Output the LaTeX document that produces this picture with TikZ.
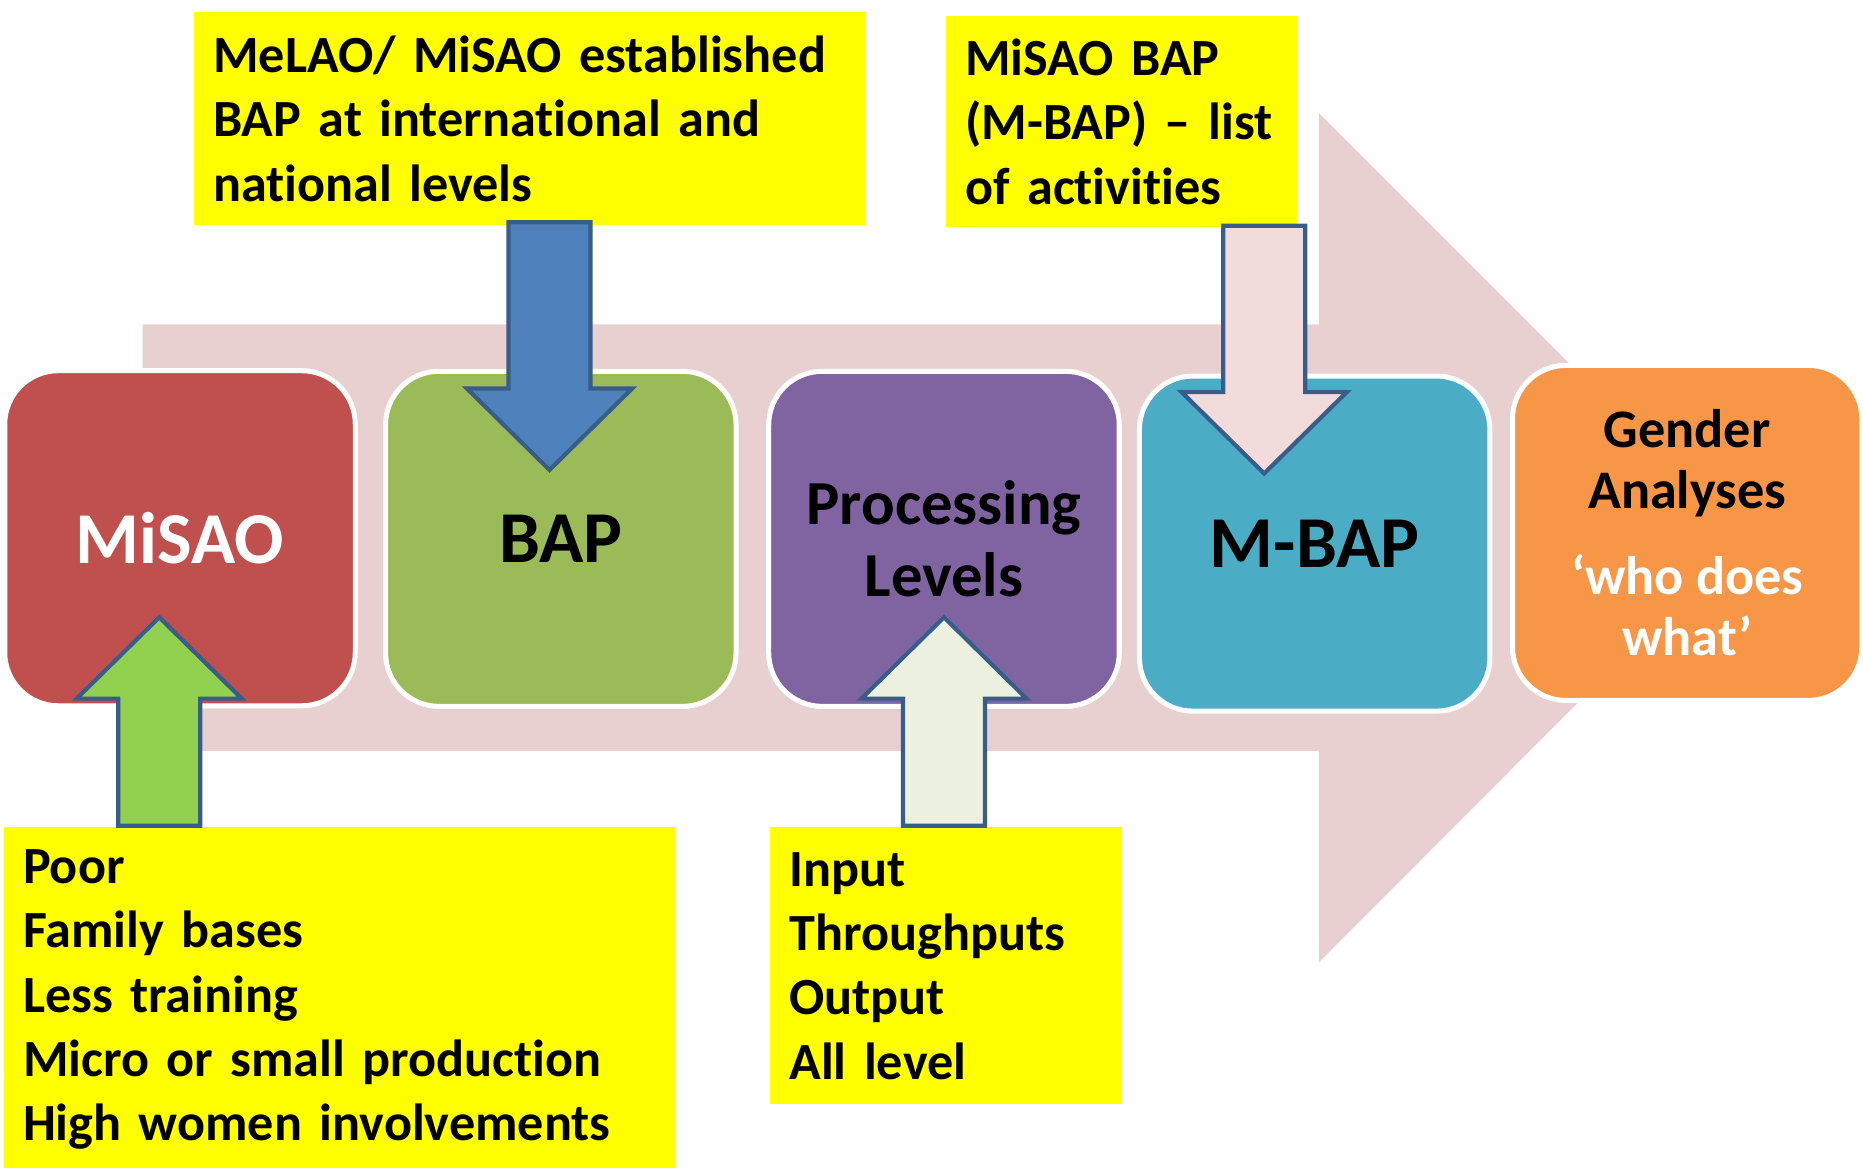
\documentclass[tikz,border=0pt]{standalone}
\usepackage{fontspec}
\setmainfont{Carlito}[Ligatures={TeX,NoCommon}]
\usepackage{tikz}
\usetikzlibrary{positioning, calc}

\definecolor{flowpink}{HTML}{E8D0D1}
\definecolor{misaored}{HTML}{C0504D}
\definecolor{bapgreen}{HTML}{9BBB59}
\definecolor{procpurple}{HTML}{8064A2}
\definecolor{mbapteal}{HTML}{4BACC6}
\definecolor{genderorange}{HTML}{F79646}
\definecolor{noteyellow}{HTML}{FFFF00}
\definecolor{arrowedge}{HTML}{385D8A}
\definecolor{arrowblue}{HTML}{4F81BD}
\definecolor{arrowpink}{HTML}{F2DCDB}
\definecolor{arrowgreen}{HTML}{92D050}
\definecolor{arrowcream}{HTML}{EBF1DE}

\begin{document}
\begin{tikzpicture}[thick,
    pics/blockarrow/.style 2 args={code={
        \draw[draw=arrowedge, fill=#2, line width=1pt, line join=miter]
            (-0.345,0) -- (0.345,0) -- (0.345,-#1) -- (0.695,-#1) -- (0,-#1-0.685)
            -- (-0.695,-#1) -- (-0.345,-#1) -- cycle;
    }}]
        % Define block styles
        \tikzstyle{stage} = [rectangle, draw=white, line width=1.2pt, rounded corners=0.45cm, align=center, minimum width=2.95cm, minimum height=2.82cm, font=\bfseries\fontsize{17.5}{21}\selectfont]
        \tikzstyle{note} = [rectangle, fill=noteyellow, align=left, anchor=north west, inner xsep=0.16cm, inner ysep=0pt, font=\bfseries\fontsize{12.5}{15.4}\selectfont]

        \useasboundingbox (0,0) rectangle (15.68,-9.83);

        % Big arrow in the back
        \fill[flowpink] (1.20,-2.73) -- (11.10,-2.73) -- (11.10,-0.95) -- (14.67,-4.52)
            -- (11.10,-8.10) -- (11.10,-6.32) -- (1.20,-6.32) -- cycle;

        % Place nodes
        \node [stage, fill=misaored, text=white] (misao) at (1.515,-4.53) {MiSAO};
        \node [stage, fill=bapgreen] (bap) at (4.72,-4.535) {BAP};
        \node [stage, fill=procpurple, font=\bfseries\fontsize{15}{17.2}\selectfont] (levels) at (7.945,-4.535) {Processing\\Levels};
        \node [stage, fill=mbapteal] (mbap) at (11.065,-4.575) {M-BAP};
        \node [stage, fill=genderorange, minimum width=2.94cm, font=\bfseries\fontsize{13}{14.6}\selectfont] (gender) at (14.20,-4.485) {Gender\\Analyses\\[6pt]\textcolor{white}{‘who does}\\\textcolor{white}{what’}};

        % Yellow notes
        \node [note, minimum width=5.65cm, minimum height=1.79cm, text width=5.33cm] (established) at (1.62,-0.09) {MeLAO/ MiSAO established\\BAP at international and\\national levels};
        \node [note, minimum width=2.95cm, minimum height=1.78cm, text width=2.63cm] (activities) at (7.95,-0.12) {MiSAO BAP\\(M-BAP) – list\\of activities};
        \node [note, minimum width=5.65cm, minimum height=2.90cm, text width=5.33cm] (features) at (0.02,-6.95) {Poor\\Family bases\\Less training\\Micro or small production\\High women involvements};
        \node [note, minimum width=2.96cm, minimum height=2.33cm, text width=2.64cm] (inputs) at (6.47,-6.95) {Input\\Throughputs\\Output\\All level};

        % Draw connections as arrows
        \pic at (4.625,-1.87) {blockarrow={1.40}{arrowblue}};
        \pic at (10.64,-1.90) {blockarrow={1.40}{arrowpink}};
        \pic [rotate=180] at (1.34,-6.95) {blockarrow={1.07}{arrowgreen}};
        \pic [rotate=180] at (7.945,-6.95) {blockarrow={1.07}{arrowcream}};
    \end{tikzpicture}
\end{document}
